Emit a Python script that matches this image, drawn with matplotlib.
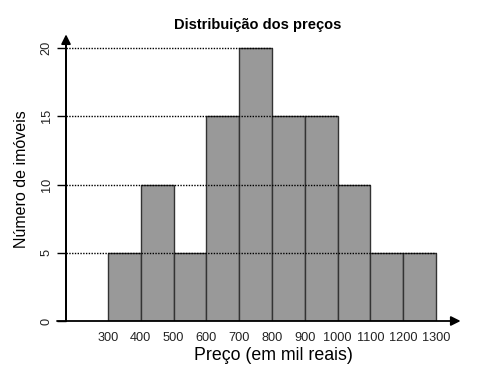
import matplotlib
matplotlib.use("Agg")
import matplotlib.pyplot as plt

# --- data ---
bin_left = [300, 400, 500, 600, 700, 800, 900, 1000, 1100, 1200]
counts = [5, 10, 5, 15, 20, 15, 15, 10, 5, 5]
x_ticks = [300, 400, 500, 600, 700, 800, 900, 1000, 1100, 1200, 1300]
y_ticks = [0, 5, 10, 15, 20]
bin_width = 100

plt.rcParams['font.family'] = ['Liberation Sans', 'DejaVu Sans']

fig = plt.figure(figsize=(4.8, 3.74), dpi=100)
ax = fig.add_axes([57 / 480, 1 - 321 / 374, (470 - 57) / 480, (321 - 30) / 374])
ax.set_xlim(144.5, 300 + (470 - 108) / 0.328)
ax.set_ylim(0, (321 - 30) / 13.65)
for s in ax.spines.values():
    s.set_visible(False)

# y axis sits inside the plot, at x = 172
y_axis_x = 172
ax.spines['left'].set_position(('data', y_axis_x))
ax.spines['left'].set_visible(True)
ax.spines['left'].set_bounds(0, 20.5)
ax.spines['left'].set_linewidth(1.3)

# bars
ax.bar(bin_left, counts, width=bin_width, align='edge', color='#999999',
       edgecolor='#333333', linewidth=1, zorder=2)

# dotted reference lines
for lvl in y_ticks[1:]:
    right = max(b + bin_width for b, c in zip(bin_left, counts) if c >= lvl)
    ax.hlines(lvl, y_axis_x, right, colors='black', linestyles=(0, (1, 1)),
              linewidth=1, zorder=3)

# axes with arrows
ax.annotate('', xy=(1375, 0), xytext=(144.5, 0), annotation_clip=False,
            arrowprops=dict(arrowstyle='-|>', color='black', lw=1.3,
                            mutation_scale=14, shrinkA=0, shrinkB=0))
ax.annotate('', xy=(y_axis_x, 21.0), xytext=(y_axis_x, 0), annotation_clip=False,
            arrowprops=dict(arrowstyle='-|>', color='black', lw=1.3,
                            mutation_scale=14, shrinkA=0, shrinkB=0))

ax.set_xticks(x_ticks)
ax.set_xticklabels([str(t) for t in x_ticks], fontsize=9.2, color='#222222')
ax.set_yticks(y_ticks)
ax.set_yticklabels([str(t) for t in y_ticks], fontsize=9.2, rotation=90, va='center',
                   color='#222222')
ax.tick_params(axis='x', length=0, pad=8)
ax.tick_params(axis='y', direction='out', length=6.5, width=1, pad=3)

fig.text(258 / 480, 1 - 25 / 374, 'Distribuição dos preços', ha='center', va='center',
         fontsize=10.5, fontweight='bold', family=['Liberation Sans Narrow', 'Liberation Sans'])
fig.text(273.5 / 480, 1 - 355 / 374, 'Preço (em mil reais)', ha='center', va='center',
         fontsize=12.8)
fig.text(22 / 480, 1 - 179 / 374, 'Número de imóveis', ha='center', va='center',
         fontsize=11.5, rotation=90)

fig.savefig('out.png', dpi=100)
